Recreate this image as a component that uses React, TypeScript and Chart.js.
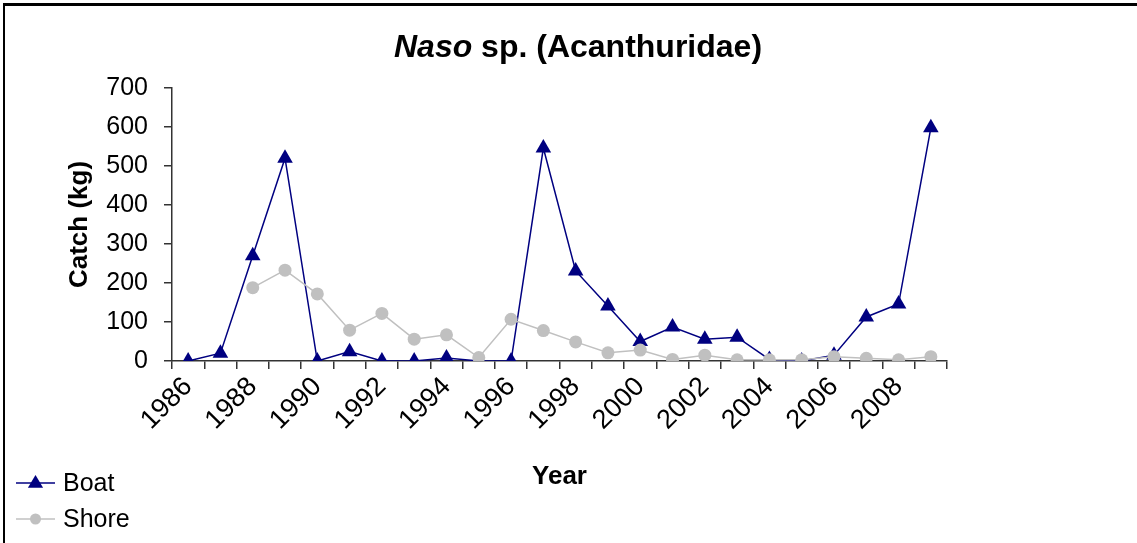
import React, { useEffect, useRef } from 'react';
import { Chart, registerables } from 'chart.js';

Chart.register(...registerables);

const FONT = 'Arial, "Liberation Sans", sans-serif';

const years = [
  '1986', '1987', '1988', '1989', '1990', '1991', '1992', '1993',
  '1994', '1995', '1996', '1997', '1998', '1999', '2000', '2001',
  '2002', '2003', '2004', '2005', '2006', '2007', '2008', '2009',
];

const boat = [0, 20, 270, 520, 0, 24, 0, 0, 8, 0, 0, 546, 231, 141, 50, 87, 56, 61, 4, 0, 15, 113, 146, 598];
const shore = [null, null, 188, 233, 172, 79, 122, 56, 67, 9, 107, 78, 49, 21, 28, 4, 15, 3, 3, 3, 11, 7, 3, 11];

const yTicks = [0, 100, 200, 300, 400, 500, 600, 700];

const TITLE_ITALIC = 'Naso';
const TITLE_REST = ' sp. (Acanthuridae)';
const Y_TITLE = 'Catch (kg)';
const X_TITLE = 'Year';

const BOAT_COLOR = '#000080';
const SHORE_COLOR = '#C0C0C0';

const titlePlugin = {
  id: 'customTitle',
  afterDraw(chart: any) {
    const ctx = chart.ctx;
    ctx.save();
    ctx.fillStyle = '#000';
    ctx.textBaseline = 'middle';
    ctx.textAlign = 'left';
    ctx.font = `italic bold 32px ${FONT}`;
    const w1 = ctx.measureText(TITLE_ITALIC).width;
    ctx.font = `bold 32px ${FONT}`;
    const w2 = ctx.measureText(TITLE_REST).width;
    const x0 = 578 - (w1 + w2) / 2;
    const y = 48;
    ctx.font = `italic bold 32px ${FONT}`;
    ctx.fillText(TITLE_ITALIC, x0, y);
    ctx.font = `bold 32px ${FONT}`;
    ctx.fillText(TITLE_REST, x0 + w1, y);
    ctx.restore();
  },
};

const legendPlugin = {
  id: 'customLegend',
  afterDraw(chart: any) {
    const ctx = chart.ctx;
    const items = [
      { ds: chart.data.datasets[1], y: 483 },
      { ds: chart.data.datasets[0], y: 519 },
    ];
    ctx.save();
    for (const it of items) {
      const ds = it.ds;
      ctx.strokeStyle = ds.borderColor;
      ctx.lineWidth = 1.5;
      ctx.beginPath();
      ctx.moveTo(16, it.y);
      ctx.lineTo(55, it.y);
      ctx.stroke();
      ctx.fillStyle = ds.pointBackgroundColor;
      const cx = 35.5;
      if (ds.pointStyle === 'triangle') {
        const r = 8;
        ctx.beginPath();
        ctx.moveTo(cx, it.y - r);
        ctx.lineTo(cx + r * 0.95, it.y + r * 0.6);
        ctx.lineTo(cx - r * 0.95, it.y + r * 0.6);
        ctx.closePath();
        ctx.fill();
      } else {
        ctx.beginPath();
        ctx.arc(cx, it.y, 5.5, 0, Math.PI * 2);
        ctx.fill();
      }
      ctx.fillStyle = '#000';
      ctx.font = `25px ${FONT}`;
      ctx.textBaseline = 'middle';
      ctx.textAlign = 'left';
      ctx.fillText(ds.label, 63, it.y + 1);
    }
    ctx.restore();
  },
};

function App() {
  const canvasRef = useRef<HTMLCanvasElement | null>(null);

  useEffect(() => {
    const canvas = canvasRef.current;
    if (!canvas) return;
    const chart = new Chart(canvas, {
      type: 'line',
      data: {
        labels: years,
        datasets: [
          {
            label: 'Shore',
            data: shore,
            borderColor: SHORE_COLOR,
            backgroundColor: SHORE_COLOR,
            pointBackgroundColor: SHORE_COLOR,
            pointBorderColor: SHORE_COLOR,
            pointStyle: 'circle',
            pointRadius: 6.5,
            pointBorderWidth: 0,
            borderWidth: 1.5,
            tension: 0,
            spanGaps: false,
            order: 0,
          },
          {
            label: 'Boat',
            data: boat,
            borderColor: BOAT_COLOR,
            backgroundColor: BOAT_COLOR,
            pointBackgroundColor: BOAT_COLOR,
            pointBorderColor: BOAT_COLOR,
            pointStyle: 'triangle',
            pointRadius: 9,
            pointBorderWidth: 0,
            borderWidth: 1.5,
            tension: 0,
            order: 1,
          },
        ],
      },
      options: {
        responsive: false,
        animation: false,
        devicePixelRatio: 1,
        layout: { padding: { left: 0, right: 190, top: 88, bottom: 0 } },
        plugins: {
          legend: { display: false },
          title: { display: false },
          tooltip: { enabled: false },
        },
        scales: {
          x: {
            type: 'category',
            offset: true,
            grid: {
              offset: true,
              drawOnChartArea: false,
              drawTicks: true,
              tickLength: 8,
              color: '#333',
              lineWidth: 1.5,
            },
            border: { display: true, color: '#333', width: 1.5 },
            ticks: {
              autoSkip: false,
              maxRotation: 45,
              minRotation: 45,
              padding: 2,
              color: '#000',
              font: { family: FONT, size: 27 },
              callback: (_v: any, i: number) => (i % 2 === 0 ? years[i] : ''),
            },
            title: {
              display: true,
              text: X_TITLE,
              color: '#000',
              font: { family: FONT, size: 26, weight: 'bold' },
              padding: { top: 0, bottom: 51 },
            },
            afterFit: (scale: any) => {
              scale.height = 182;
            },
          },
          y: {
            min: 0,
            max: 700,
            afterBuildTicks: (scale: any) => {
              scale.ticks = yTicks.map((v) => ({ value: v }));
            },
            grid: {
              drawOnChartArea: false,
              drawTicks: true,
              tickLength: 8,
              color: '#333',
              lineWidth: 1.5,
            },
            border: { display: true, color: '#333', width: 1.5 },
            ticks: {
              padding: 16,
              color: '#000',
              font: { family: FONT, size: 25 },
            },
            title: {
              display: true,
              text: Y_TITLE,
              color: '#000',
              font: { family: FONT, size: 26, weight: 'bold' },
              padding: { top: 64, bottom: 0 },
            },
            afterFit: (scale: any) => {
              scale.width = 172;
            },
          },
        },
      },
      plugins: [titlePlugin, legendPlugin],
    });
    return () => chart.destroy();
  }, []);

  return (
    <div
      style={{
        position: 'fixed',
        left: 0,
        top: 0,
        width: 1137,
        height: 543,
        overflow: 'hidden',
        background: '#fff',
      }}
    >
      <div
        style={{
          position: 'absolute',
          left: 3,
          top: 3,
          width: 1200,
          height: 700,
          borderLeft: '2px solid #000',
          borderTop: '3px solid #000',
        }}
      />
      <canvas
        ref={canvasRef}
        width={1137}
        height={543}
        style={{ position: 'absolute', left: 0, top: 0, width: 1137, height: 543 }}
      />
    </div>
  );
}

export default App;
